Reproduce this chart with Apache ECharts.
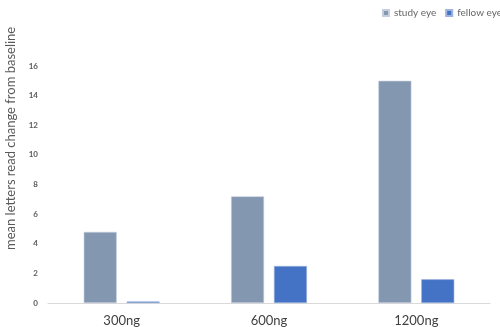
<!DOCTYPE html>
<html><head><meta charset="utf-8">
<script src="https://cdn.jsdelivr.net/npm/echarts@6/dist/echarts.min.js"></script>
<style>html,body{margin:0;padding:0;background:#fff}#c{width:500px;height:327px}</style>
</head><body><div id="c"></div>
<script>
var categories = ['300ng', '600ng', '1200ng'];
var studyEye = [4.8, 7.2, 15.0];
var fellowEye = [0.1, 2.5, 1.6];
var yTicks = [0, 2, 4, 6, 8, 10, 12, 14, 16];
var seriesNames = ['study eye', 'fellow eye'];
var yTitle = 'mean letters read change from baseline';

var chart = echarts.init(document.getElementById('c'), null, {renderer: 'canvas'});
chart.setOption({
  animation: false,
  textStyle: {fontFamily: 'Lato'},
  legend: {
    right: -7, top: 3, itemWidth: 6, itemHeight: 6, itemGap: 9,
    icon: 'rect',
    textStyle: {color: '#666', fontSize: 10, fontFamily: 'Lato'},
    data: seriesNames
  },
  grid: {left: 48, right: 10, top: 66, bottom: 22, containLabel: false},
  xAxis: {
    type: 'category', data: categories,
    axisLine: {lineStyle: {color: '#d9d9d9'}},
    axisTick: {show: false},
    axisLabel: {color: '#404040', fontSize: 13, margin: 11, fontFamily: 'Lato'}
  },
  yAxis: {
    type: 'value', min: yTicks[0], max: yTicks[yTicks.length - 1], interval: 2,
    axisLine: {show: false}, axisTick: {show: false}, splitLine: {show: false},
    axisLabel: {color: '#595959', fontSize: 8, fontWeight: 'bold', margin: 10, fontFamily: 'Lato'}
  },
  graphic: [{
    type: 'text', rotation: Math.PI / 2,
    style: {text: yTitle, fill: '#595959', fontSize: 13, fontFamily: 'Lato'},
    position: [4, 250]
  }],
  series: [
    {name: seriesNames[0], type: 'bar', data: studyEye, barWidth: 33, barGap: '30%',
     itemStyle: {color: '#8497B0', borderColor: '#c5cede', borderWidth: 0.6}},
    {name: seriesNames[1], type: 'bar', data: fellowEye, barWidth: 33,
     itemStyle: {color: '#4472C4', borderColor: '#9db3de', borderWidth: 0.6}}
  ]
});
</script></body></html>
